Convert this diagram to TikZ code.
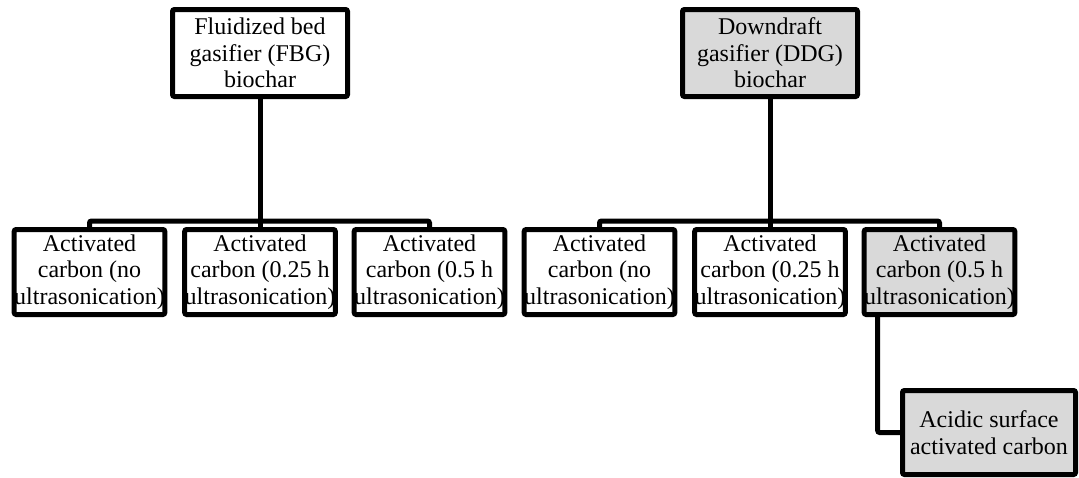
\documentclass[tikz,border=0pt]{standalone}
\usepackage{fontspec}
\setmainfont{Liberation Serif}
\usetikzlibrary{calc}
\definecolor{boxgray}{HTML}{D9D9D9}
\begin{document}
\begin{tikzpicture}[x=1pt,y=-1pt,
  every node/.style={font=\fontsize{24}{26.5}\selectfont},
  topbox/.style={draw, line width=5pt, rounded corners=2pt, minimum width=175pt, minimum height=87pt, inner sep=0pt, align=center, fill=white},
  subbox/.style={draw, line width=5pt, rounded corners=2pt, minimum width=150pt, minimum height=85pt, inner sep=0pt, align=center, fill=white},
  shaded/.style={fill=boxgray},
  conn/.style={line width=5pt, rounded corners=2pt}]
\useasboundingbox (0,0) rectangle (1079,477);
\node[topbox] (fbg) at (260,53) {Fluidized bed\\gasifier (FBG)\\biochar};
\node[topbox, shaded] (ddg) at (770,53) {Downdraft\\gasifier (DDG)\\biochar};
\node[subbox] (a1) at (89.5,272) {Activated\\carbon (no\\ultrasonication)};
\node[subbox] (a2) at (260,272) {Activated\\carbon (0.25 h\\ultrasonication)};
\node[subbox] (a3) at (429.5,272) {Activated\\carbon (0.5 h\\ultrasonication)};
\node[subbox] (b1) at (599.5,272) {Activated\\carbon (no\\ultrasonication)};
\node[subbox] (b2) at (770,272) {Activated\\carbon (0.25 h\\ultrasonication)};
\node[subbox, shaded] (b3) at (939.5,272) {Activated\\carbon (0.5 h\\ultrasonication)};
\node[topbox, shaded, minimum width=173pt, minimum height=84pt] (acid) at (989,432.5) {Acidic surface\\activated carbon};
\coordinate (fbar) at (260,221);
\coordinate (dbar) at (770,221);
\draw[conn] (fbg.south) -- (a2.north);
\draw[conn] (a1.north) |- (fbar) -| (a3.north);
\draw[conn] (ddg.south) -- (b2.north);
\draw[conn] (b1.north) |- (dbar) -| (b3.north);
\draw[conn] ([xshift=16pt]b3.south west) |- (acid.west);
\end{tikzpicture}
\end{document}
